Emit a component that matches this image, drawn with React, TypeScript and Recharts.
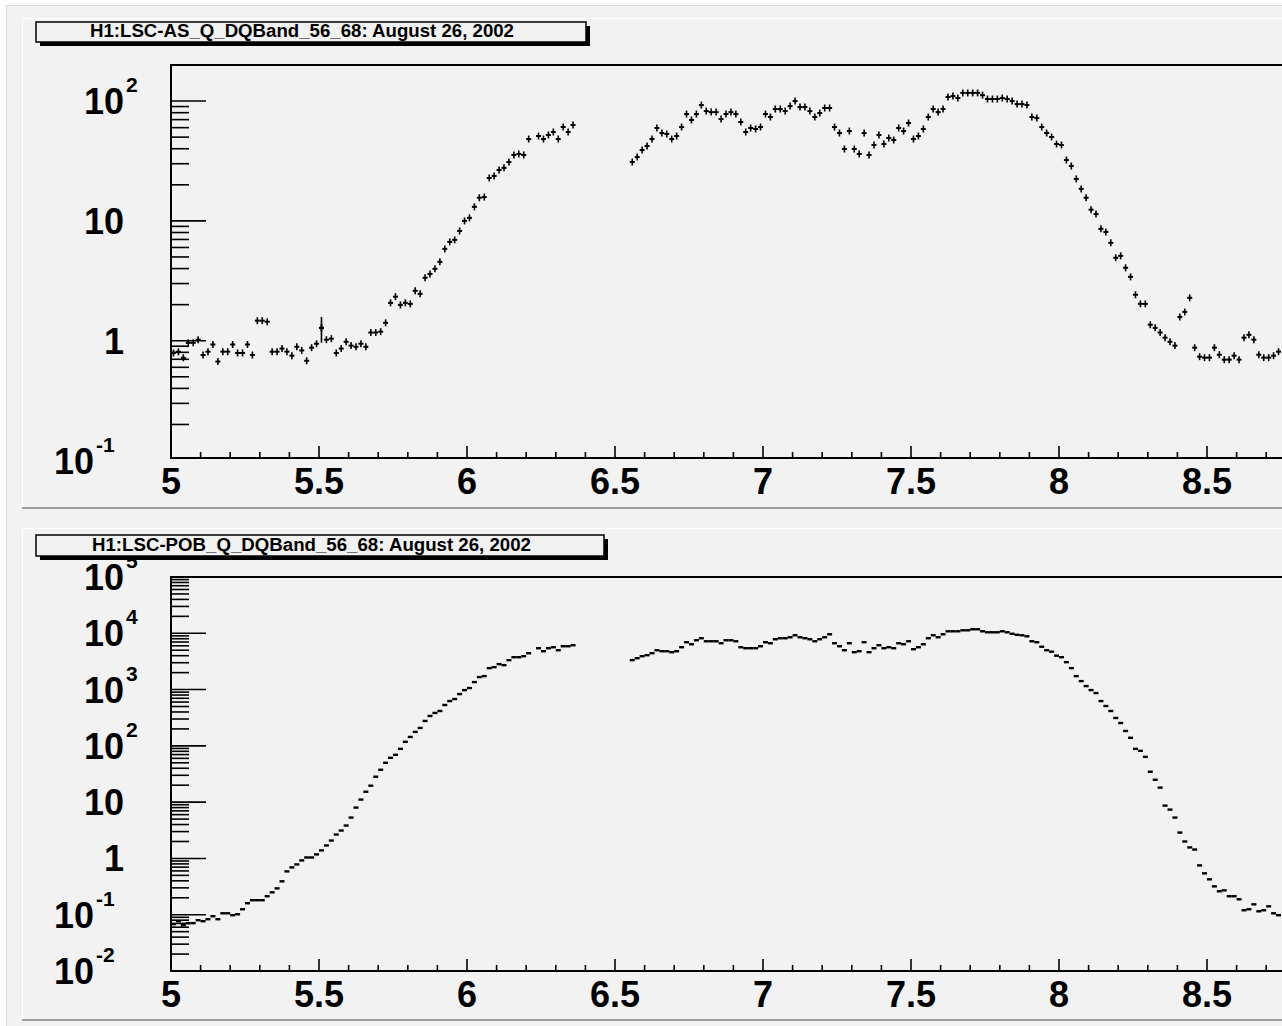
import React from 'react';
import { ScatterChart, Scatter, XAxis, YAxis, ReferenceArea, ErrorBar } from 'recharts';

// Histogram binning (bins of 1/60 starting at 5)
const BIN_START = 5;
const BIN_WIDTH = 1 / 60;

const titleTop = 'H1:LSC-AS_Q_DQBand_56_68: August 26, 2002';
const titleBottom = 'H1:LSC-POB_Q_DQBand_56_68: August 26, 2002';

// Bin contents, H1:LSC-AS_Q (bins 0..224, null = empty bin)
const asQValues: (number | null)[] = [
  0.79, 0.81, 0.72, 0.96, 0.96, 1.02, 0.76, 0.81, 0.93, 0.67,
  0.81, 0.81, 0.93, 0.79, 0.79, 0.93, 0.76, 1.47, 1.47, 1.44,
  0.81, 0.81, 0.86, 0.81, 0.75, 0.89, 0.83, 0.68, 0.875, 0.944,
  1.28, 1.02, 1.04, 0.79, 0.86, 0.98, 0.91, 0.89, 0.944, 0.89,
  1.17, 1.17, 1.19, 1.41, 2.07, 2.33, 1.99, 2.07, 2.03, 2.61,
  2.46, 3.35, 3.61, 3.98, 4.55, 5.84, 6.68, 6.95, 8.25, 10.0,
  10.6, 13.1, 15.6, 15.8, 22.8, 23.7, 26.6, 27.7, 31.0, 35.5,
  36.2, 35.5, 48.2, null, 51.1, 48.2, 52.1, 55.2, 48.2, 60.7,
  55.2, 63.1, null, null, null, null, null, null, null, null,
  null, null, null, 31.0, 34.1, 39.0, 42.2, 48.2, 59.6, 54.1,
  53.1, 48.2, 51.1, 60.7, 77.9, 69.5, 77.9, 92.6, 82.5, 80.9,
  80.9, 70.8, 77.9, 80.9, 77.9, 66.8, 55.2, 59.6, 58.5, 60.7,
  77.9, 73.6, 85.8, 85.8, 82.5, 90.8, 100, 89.1, 89.1, 82.5,
  73.6, 79.4, 87.5, 87.5, 60.7, 54.1, 39.8, 56.2, 39.8, 36.2,
  54.1, 35.5, 43.0, 52.1, 43.8, 49.2, 47.3, 59.6, 56.2, 65.6,
  48.2, 51.1, 58.5, 73.6, 85.8, 80.9, 85.8, 108, 110, 106,
  117, 117, 117, 117, 112, 104, 104, 104, 106, 104,
  100, 94.4, 94.4, 92.6, 73.6, 72.1, 60.7, 54.1, 50.1, 43.8,
  43.0, 32.2, 28.7, 22.4, 18.5, 15.6, 12.4, 11.4, 8.58, 8.09,
  6.56, 4.92, 5.11, 4.06, 3.41, 2.42, 2.03, 2.03, 1.36, 1.28,
  1.17, 1.06, 0.98, 0.91, 1.58, 1.74, 2.28, 0.875, 0.736, 0.722,
  0.722, 0.875, 0.764, 0.695, 0.695, 0.75, 0.695, 1.06, 1.12, 1.02,
  0.764, 0.722, 0.722, 0.75, 0.81,
];

// Bins of AS_Q with a visibly larger error bar: [bin, minus, plus]
const asQLargeErrors: [number, number, number][] = [[30, 0.32, 0.3]];

// Bin contents, H1:LSC-POB_Q (bins 0..224, null = empty bin)
const pobQValues: (number | null)[] = [
  0.0679, 0.0767, 0.0652, 0.0708, 0.0708, 0.0799, 0.0767, 0.0832, 0.094, 0.0832,
  0.106, 0.106, 0.098, 0.102, 0.125, 0.16, 0.181, 0.181, 0.181, 0.213,
  0.25, 0.294, 0.392, 0.589, 0.693, 0.783, 0.922, 1.04, 1.04, 1.18,
  1.39, 1.7, 2.08, 2.66, 3.13, 3.84, 5.32, 8.0, 11.1, 15.3,
  19.6, 28.3, 37.6, 50.0, 61.3, 69.3, 88.5, 118, 144, 177,
  208, 277, 340, 384, 416, 532, 625, 679, 832, 979,
  1064, 1358, 1665, 1734, 2403, 2502, 2828, 2716, 3329, 3760,
  3760, 3915, 4425, null, 5429, 4801, 5429, 5653, 4998, 5885,
  5885, 6131, null, null, null, null, null, null, null, null,
  null, null, null, 3329, 3610, 3915, 4084, 4425, 4998, 4801,
  4801, 4613, 4801, 5653, 6934, 6385, 7522, 8166, 7214, 7214,
  7214, 6656, 7522, 7522, 7214, 5653, 5429, 5429, 5429, 5885,
  6934, 6656, 7834, 8166, 8166, 8496, 9226, 8496, 8166, 7834,
  7214, 7834, 8496, 9600, 6656, 5885, 4998, 6656, 4613, 4801,
  6934, 4613, 5429, 6131, 5429, 5653, 5429, 6656, 6385, 7214,
  5210, 5653, 6385, 8166, 9226, 8496, 9600, 10850, 10850, 10850,
  11300, 11300, 11780, 11780, 10850, 10420, 10420, 10420, 10850, 10420,
  9800, 9400, 9226, 8850, 7214, 6934, 5770, 4998, 4710, 4000,
  3760, 3070, 2403, 1734, 1413, 1153, 979, 867, 625, 510,
  416, 313, 255, 184, 139, 88.5, 81.6, 63.8, 34.7, 25.0,
  18.1, 8.67, 7.37, 5.32, 2.88, 2.0, 1.57, 1.44, 0.752, 0.543,
  0.425, 0.319, 0.261, 0.271, 0.213, 0.213, 0.188, 0.12, 0.125, 0.153,
  0.115, 0.12, 0.141, 0.106, 0.098,
];

// Axis ticks (labelled majors; 9 lies beyond the visible edge and carries no label)
const xMajorTicks = [5, 5.5, 6, 6.5, 7, 7.5, 8, 8.5, 9];
const xLabelledTicks = [5, 5.5, 6, 6.5, 7, 7.5, 8, 8.5];
const xMinorTicks = [
  5.1, 5.2, 5.3, 5.4, 5.6, 5.7, 5.8, 5.9, 6.1, 6.2, 6.3, 6.4, 6.6, 6.7, 6.8, 6.9,
  7.1, 7.2, 7.3, 7.4, 7.6, 7.7, 7.8, 7.9, 8.1, 8.2, 8.3, 8.4, 8.6, 8.7, 8.8, 8.9,
];
const xTicks = [...xMajorTicks, ...xMinorTicks].sort((a, b) => a - b);

const logMultipliers = [2, 3, 4, 5, 6, 7, 8, 9];
const topDecades = [0.1, 1, 10, 100];
const bottomDecades = [0.01, 0.1, 1, 10, 100, 1000, 10000, 100000];
const topYDomain: [number, number] = [0.105, 200];
const bottomYDomain: [number, number] = [0.01, 100000];

const minorsFor = (decades: number[], dom: [number, number]) =>
  decades
    .flatMap((d) => logMultipliers.map((m) => m * d))
    .filter((v) => v >= dom[0] * 0.999 && v <= dom[1] * 1.001);

const topYTicks = [...topDecades, ...minorsFor(topDecades, topYDomain)].sort((a, b) => a - b);
const bottomYTicks = [...bottomDecades, ...minorsFor(bottomDecades, bottomYDomain)].sort((a, b) => a - b);

const toPoints = (vals: (number | null)[]) =>
  vals
    .map((v, i) => ({ x: BIN_START + (i + 0.5) * BIN_WIDTH, y: v }))
    .filter((p) => p.y !== null && (p.y as number) > 0);

const asQPoints = toPoints(asQValues);
const pobQPoints = toPoints(pobQValues);
const asQErrPoints = asQLargeErrors.map(([bin, lo, hi]) => ({
  x: BIN_START + (bin + 0.5) * BIN_WIDTH,
  y: asQValues[bin] as number,
  err: [lo, hi],
}));

const FONT = "'Liberation Sans', Arial, Helvetica, sans-serif";
const BG = '#f2f2f2';
const TICK_SIZE = 6;

const near = (list: number[], v: number) => list.some((t) => Math.abs(t - v) < 1e-6);

const XTick = (props: any) => {
  const { x, y, payload } = props;
  const v = payload.value as number;
  const axisY = y - TICK_SIZE;
  const major = near(xMajorTicks, v);
  return (
    <g>
      <line x1={x} x2={x} y1={axisY} y2={axisY - (major ? 12 : 6)} stroke="#000" strokeWidth={1.6} />
      {near(xLabelledTicks, v) && (
        <text x={x} y={axisY + 36} textAnchor="middle" fontFamily={FONT} fontWeight="bold" fontSize={36} fill="#000">
          {String(v)}
        </text>
      )}
    </g>
  );
};

const makeYTick = (domain: [number, number]) => (props: any) => {
  const { x, y, payload } = props;
  const v = payload.value as number;
  const plotLeft = x + TICK_SIZE;
  const k = Math.round(Math.log10(v));
  const major = Math.abs(Math.log10(v) - k) < 1e-6;
  const len = major ? 35 : 18;
  const inside = v >= domain[0] * 0.999 && v <= domain[1] * 1.001;
  let label: React.ReactNode = null;
  if (major) {
    if (k === 0 || k === 1) {
      label = (
        <text x={plotLeft - 47} y={y + 13} textAnchor="end" fontFamily={FONT} fontWeight="bold" fontSize={36} fill="#000">
          {k === 0 ? '1' : '10'}
        </text>
      );
    } else {
      const baseEnd = k > 0 ? plotLeft - 47 : plotLeft - 77;
      label = (
        <g>
          <text x={baseEnd} y={y + 13} textAnchor="end" fontFamily={FONT} fontWeight="bold" fontSize={36} fill="#000">
            10
          </text>
          <text x={baseEnd + 2} y={y - 9} textAnchor="start" fontFamily={FONT} fontWeight="bold" fontSize={21} fill="#000">
            {String(k)}
          </text>
        </g>
      );
    }
  }
  return (
    <g>
      {inside && <line x1={plotLeft} x2={plotLeft + len} y1={y} y2={y} stroke="#000" strokeWidth={1.6} />}
      {label}
    </g>
  );
};

const CrossMarker = (props: any) => {
  const { cx, cy } = props;
  if (cx == null || cy == null || !isFinite(cx) || !isFinite(cy)) return <g />;
  return (
    <g>
      <line x1={cx - 2.5} x2={cx + 2.5} y1={cy} y2={cy} stroke="#000" strokeWidth={2} />
      <line x1={cx} x2={cx} y1={cy - 3.5} y2={cy + 3.5} stroke="#000" strokeWidth={1.6} />
    </g>
  );
};

const DashMarker = (props: any) => {
  const { cx, cy } = props;
  if (cx == null || cy == null || !isFinite(cx) || !isFinite(cy)) return <g />;
  return (
    <g>
      <line x1={cx - 2.5} x2={cx + 2.5} y1={cy} y2={cy} stroke="#000" strokeWidth={2.4} />
    </g>
  );
};

const CHART_W = 1400;
const MARGIN_LEFT = 111; // + YAxis width 60 => plot left at 171
const MARGIN_RIGHT = 45; // plot right at 1355 (x = 9)

type PanelProps = {
  top: number;
  height: number;
  marginTop: number;
  marginBottom: number;
  domain: [number, number];
  yTicks: number[];
  points: { x: number; y: number | null }[];
  marker: (p: any) => React.ReactElement;
  errPoints?: { x: number; y: number; err: number[] }[];
};

const Panel = ({ top, height, marginTop, marginBottom, domain, yTicks, points, marker, errPoints }: PanelProps) => {
  const YTick = makeYTick(domain);
  return (
    <div style={{ position: 'absolute', left: 0, top, width: CHART_W, height }}>
      <ScatterChart
        width={CHART_W}
        height={height}
        margin={{ top: marginTop, right: MARGIN_RIGHT, bottom: marginBottom, left: MARGIN_LEFT }}
      >
        <XAxis
          dataKey="x"
          type="number"
          domain={[5, 9]}
          ticks={xTicks}
          interval={0}
          allowDataOverflow
          tick={(p: any) => <XTick {...p} />}
          tickLine={false}
          axisLine={false}
          tickSize={TICK_SIZE}
          tickMargin={0}
          height={30}
        />
        <YAxis
          dataKey="y"
          type="number"
          scale="log"
          domain={domain}
          allowDataOverflow
          ticks={yTicks}
          interval={0}
          tick={(p: any) => <YTick {...p} />}
          tickLine={false}
          axisLine={false}
          tickSize={TICK_SIZE}
          tickMargin={0}
          width={60}
        />
        <ReferenceArea
          x1={5}
          x2={9}
          y1={domain[0]}
          y2={domain[1]}
          fill="none"
          fillOpacity={0}
          stroke="#000"
          strokeWidth={2}
          ifOverflow="visible"
        />
        <Scatter data={points} dataKey="y" isAnimationActive={false} shape={marker} />
        {errPoints && (
          <Scatter data={errPoints} dataKey="y" isAnimationActive={false} shape={marker}>
            <ErrorBar dataKey="err" direction="y" width={0} stroke="#000" strokeWidth={1.6} />
          </Scatter>
        )}
      </ScatterChart>
    </div>
  );
};

const TitleBox = ({ x, y, w, h, text, textX, textW }: { x: number; y: number; w: number; h: number; text: string; textX: number; textW: number }) => (
  <g>
    <rect x={x + 4} y={y + 4} width={w} height={h} fill="#000" />
    <rect x={x} y={y} width={w} height={h} fill={BG} stroke="#000" strokeWidth={1.5} />
    <text
      x={textX}
      y={y + h - 5}
      fontFamily={FONT}
      fontWeight="bold"
      fontSize={18}
      textLength={textW}
      lengthAdjust="spacingAndGlyphs"
      fill="#000"
    >
      {text}
    </text>
  </g>
);

export default function App() {
  return (
    <div style={{ position: 'absolute', left: 0, top: 0, width: 1282, height: 1026, overflow: 'hidden', background: '#fff' }}>
      <svg width={1282} height={1026} style={{ position: 'absolute', left: 0, top: 0 }}>
        <rect x={6.5} y={5.5} width={1290} height={1030} fill={BG} stroke="#d9d9d9" strokeWidth={1} />
        <rect x={22.5} y={18.5} width={1290} height={489} fill={BG} stroke="#ffffff" strokeWidth={1} />
        <line x1={22} x2={1282} y1={508} y2={508} stroke="#7f7f7f" strokeWidth={1.5} />
        <rect x={22.5} y={528.5} width={1290} height={491} fill={BG} stroke="#ffffff" strokeWidth={1} />
        <line x1={22} x2={1282} y1={1020} y2={1020} stroke="#7f7f7f" strokeWidth={1.5} />
      </svg>
      <Panel
        top={0}
        height={508}
        marginTop={65}
        marginBottom={20}
        domain={topYDomain}
        yTicks={topYTicks}
        points={asQPoints}
        marker={CrossMarker}
        errPoints={asQErrPoints}
      />
      <Panel
        top={508}
        height={512}
        marginTop={69}
        marginBottom={19}
        domain={bottomYDomain}
        yTicks={bottomYTicks}
        points={pobQPoints}
        marker={DashMarker}
      />
      <svg width={1282} height={1026} style={{ position: 'absolute', left: 0, top: 0, pointerEvents: 'none' }}>
        <TitleBox x={36} y={22} w={550} h={20} text={titleTop} textX={90} textW={424} />
        <TitleBox x={36} y={535} w={568} h={21} text={titleBottom} textX={92} textW={439} />
      </svg>
    </div>
  );
}
